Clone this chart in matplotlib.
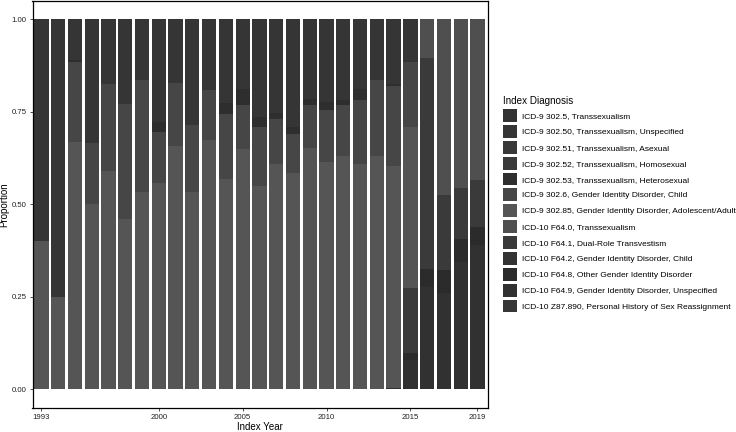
import matplotlib
matplotlib.use("Agg")
import matplotlib.pyplot as plt
from matplotlib.patches import Patch
import numpy as np

plt.rcParams['font.family'] = ['Liberation Sans', 'DejaVu Sans']

years = [1993, 1994, 1995, 1996, 1997, 1998, 1999, 2000, 2001, 2002, 2003, 2004, 2005,
         2006, 2007, 2008, 2009, 2010, 2011, 2012, 2013, 2014, 2015, 2016, 2017, 2018, 2019]

categories = [
    "ICD-9 302.5, Transsexualism",
    "ICD-9 302.50, Transsexualism, Unspecified",
    "ICD-9 302.51, Transsexualism, Asexual",
    "ICD-9 302.52, Transsexualism, Homosexual",
    "ICD-9 302.53, Transsexualism, Heterosexual",
    "ICD-9 302.6, Gender Identity Disorder, Child",
    "ICD-9 302.85, Gender Identity Disorder, Adolescent/Adult",
    "ICD-10 F64.0, Transsexualism",
    "ICD-10 F64.1, Dual-Role Transvestism",
    "ICD-10 F64.2, Gender Identity Disorder, Child",
    "ICD-10 F64.8, Other Gender Identity Disorder",
    "ICD-10 F64.9, Gender Identity Disorder, Unspecified",
    "ICD-10 Z87.890, Personal History of Sex Reassignment",
]

p302_5  = [0]*27
p302_50 = [0.600, 0.750, 0.109, 0.334, 0.174, 0.228, 0.165, 0.276, 0.172, 0.286, 0.190, 0.225, 0.187,
           0.264, 0.253, 0.291, 0.215, 0.224, 0.219, 0.187, 0.165, 0.174, 0.115, 0, 0, 0, 0]
p302_51 = [0]*27
p302_52 = [0]*27
p302_53 = [0, 0, 0.005, 0, 0, 0, 0, 0.029, 0, 0, 0, 0.030, 0.045,
           0.027, 0.015, 0.018, 0.017, 0.022, 0.013, 0.032, 0, 0.007, 0, 0, 0, 0, 0]
p302_6  = [0, 0, 0.218, 0.166, 0.237, 0.311, 0.302, 0.137, 0.170, 0.181, 0.137, 0.177, 0.118,
           0.160, 0.122, 0.106, 0.116, 0.140, 0.137, 0.173, 0.203, 0.216, 0.176, 0, 0, 0, 0]
p302_85 = [0.400, 0.250, 0.668, 0.500, 0.589, 0.461, 0.533, 0.558, 0.658, 0.533, 0.673, 0.568, 0.650,
           0.549, 0.610, 0.585, 0.652, 0.614, 0.631, 0.608, 0.632, 0.599, 0.434, 0, 0, 0, 0]
pF64_0  = [0]*23 + [0.104, 0.474, 0.455, 0.435]
pF64_1  = [0]*22 + [0.177, 0.570, 0.204, 0.140, 0.125]
pF64_2  = [0]*27
pF64_8  = [0]*22 + [0.018, 0.049, 0.063, 0.061, 0.050]
pF64_9  = [0]*21 + [0.004, 0.080, 0.277, 0.259, 0.344, 0.390]
pZ87    = [0]*27

series = [p302_5, p302_50, p302_51, p302_52, p302_53, p302_6, p302_85,
          pF64_0, pF64_1, pF64_2, pF64_8, pF64_9, pZ87]

colors = ["#333333", "#353535", "#383838", "#3a3a3a", "#2e2e2e", "#464646", "#555555",
          "#4f4f4f", "#3a3a3a", "#333333", "#2b2b2b", "#313131", "#363636"]

W, H = 736, 432
fig = plt.figure(figsize=(W/100, H/100), dpi=100)
ax = fig.add_axes([32.5/W, 1-407.7/H, (487.7-32.5)/W, (407.7-1)/H])

x = np.array(years)
bottom = np.zeros(len(years))
# stack: last level at bottom, first level on top
for vals, col in zip(reversed(series), reversed(colors)):
    v = np.array(vals, dtype=float)
    ax.bar(x, v, bottom=bottom, width=0.85, color=col, edgecolor='none', linewidth=0)
    bottom += v

ax.set_xlim(1993-0.53, 2019+0.61)
ax.set_ylim(-0.05, 1.05)
ax.set_xticks([1993, 2000, 2005, 2010, 2015, 2019])
ax.set_yticks([0, 0.25, 0.5, 0.75, 1.0])
ax.set_yticklabels(["0.00", "0.25", "0.50", "0.75", "1.00"])
ax.tick_params(axis='both', labelsize=5.6, length=2.5, width=0.6, colors='#333333',
               labelcolor='#222222', pad=2)
for s in ax.spines.values():
    s.set_linewidth(0.9)
    s.set_color('black')
ax.set_xlabel("Index Year", fontsize=7, labelpad=1)
ax.set_ylabel("Proportion", fontsize=7, va='center')
ax.yaxis.set_label_coords(-0.0615, 0.5)

handles = [Patch(facecolor=c, edgecolor='none') for c in colors]
leg = fig.legend(handles, categories, loc='upper left',
                 bbox_to_anchor=(502.5/W, 1-96/H), frameon=False,
                 fontsize=6.0, title="Index Diagnosis", title_fontsize=7.1,
                 handlelength=1.68, handleheight=2.0, labelspacing=0.36,
                 handletextpad=0.6, borderpad=0, borderaxespad=0, alignment='left')

fig.savefig("out.png", dpi=100)
